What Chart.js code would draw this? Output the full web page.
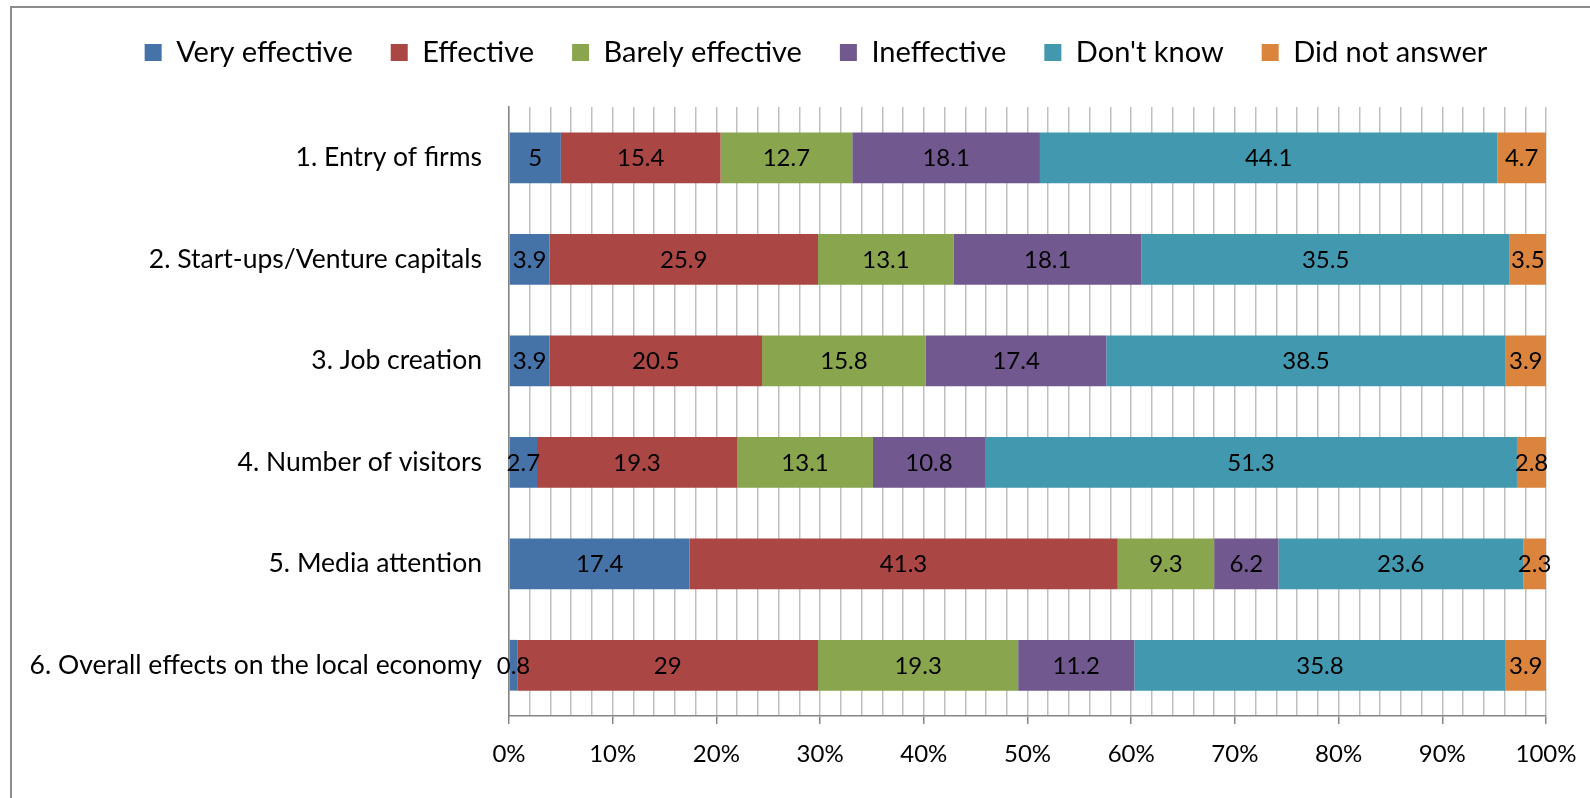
<!DOCTYPE html>
<html>
<head>
<meta charset="utf-8">
<script src="https://cdn.jsdelivr.net/npm/chart.js@4/dist/chart.umd.min.js"></script>
<style>
    html, body { margin: 0; padding: 0; background: #fff; overflow: hidden; }
    #wrap { position: relative; width: 1590px; height: 798px; }
    #frame {
        position: absolute; left: 10px; top: 6px; width: 2000px; height: 2000px;
        border: 2px solid #8c8c8c;
    }
    #effects { position: absolute; left: 0; top: 0; }
</style>
</head>
<body>
<div id="wrap">
    <div id="frame"></div>
    <canvas id="effects" width="1590" height="798"></canvas>
</div>
<script>
// survey answers per item, in percent
var items = [
    "1. Entry of firms",
    "2. Start-ups/Venture capitals",
    "3. Job creation",
    "4. Number of visitors",
    "5. Media attention",
    "6. Overall effects on the local economy"
];
var veryEffective   = [5, 3.9, 3.9, 2.7, 17.4, 0.8];
var effective       = [15.4, 25.9, 20.5, 19.3, 41.3, 29];
var barelyEffective = [12.7, 13.1, 15.8, 13.1, 9.3, 19.3];
var ineffective     = [18.1, 18.1, 17.4, 10.8, 6.2, 11.2];
var dontKnow        = [44.1, 35.5, 38.5, 51.3, 23.6, 35.8];
var noAnswer        = [4.7, 3.5, 3.9, 2.8, 2.3, 3.9];

var percentTicks = [0, 10, 20, 30, 40, 50, 60, 70, 80, 90, 100];

var FONT = "Lato";

document.addEventListener("DOMContentLoaded", function() {

    // numbers in the middle of each segment
    var segmentLabels = {
        id: "segmentLabels",
        afterDatasetsDraw: function(chart) {
            var ctx = chart.ctx;
            ctx.save();
            ctx.font = "24px " + FONT;
            ctx.fillStyle = "#000";
            ctx.textAlign = "center";
            ctx.textBaseline = "middle";
            chart.data.datasets.forEach(function(ds, i) {
                var meta = chart.getDatasetMeta(i);
                meta.data.forEach(function(bar, j) {
                    var p = bar.getProps(["x", "y", "base"], true);
                    var right = Math.min(p.x, chart.chartArea.right);
                    ctx.fillText(String(ds.data[j]), (right + p.base) / 2, p.y + 1);
                });
            });
            ctx.restore();
        }
    };

    // legend block takes the whole space above the plot,
    // and its row is centred over the bars rather than the canvas
    var legendPlace = {
        id: "legendPlace",
        beforeInit: function(chart) {
            var fit = chart.legend.fit;
            chart.legend.fit = function() {
                fit.bind(chart.legend)();
                this.height = 107;
            };
        },
        afterLayout: function(chart) {
            chart.legend.left = 86;
            chart.legend.right = 1546;
            chart.legend.width = 1460;
        }
    };

    function makeSet(label, values, color) {
        return {
            label: label,
            data: values,
            backgroundColor: color,
            borderWidth: 0,
            barPercentage: 0.5,
            categoryPercentage: 1.0
        };
    }

    var ctx = document.getElementById("effects").getContext("2d");
    var chart = new Chart(ctx, {
        type: "bar",
        data: {
            labels: items,
            datasets: [
                makeSet("Very effective", veryEffective, "#4572A7"),
                makeSet("Effective", effective, "#AA4643"),
                makeSet("Barely effective", barelyEffective, "#89A54E"),
                makeSet("Ineffective", ineffective, "#71588F"),
                makeSet("Don't know", dontKnow, "#4198AF"),
                makeSet("Did not answer", noAnswer, "#DB843D")
            ]
        },
        options: {
            indexAxis: "y",
            responsive: false,
            animation: false,
            layout: { padding: { left: 0, right: 44, top: 0, bottom: 0 } },
            plugins: {
                tooltip: { enabled: false },
                legend: {
                    position: "top",
                    labels: {
                        color: "#000",
                        font: { family: FONT, size: 29 },
                        boxWidth: 17,
                        boxHeight: 17,
                        padding: 38
                    }
                }
            },
            scales: {
                x: {
                    stacked: true,
                    min: 0,
                    max: 100,
                    afterBuildTicks: function(scale) {
                        var t = [];
                        for (var v = 0; v <= 100; v += 2) t.push({ value: v });
                        scale.ticks = t;
                    },
                    afterFit: function(scale) {
                        scale.height = 82;
                        scale.paddingLeft = 0;
                        scale.paddingRight = 0;
                    },
                    ticks: {
                        autoSkip: false,
                        maxRotation: 0,
                        color: "#000",
                        font: { family: FONT, size: 24 },
                        padding: 16,
                        callback: function(v) {
                            return percentTicks.indexOf(v) >= 0 ? v + "%" : "";
                        }
                    },
                    grid: {
                        color: "#bfbfbf",
                        lineWidth: 1.5,
                        tickLength: 8,
                        tickColor: function(c) {
                            return c.tick && c.tick.value % 10 === 0 ? "#868686" : "rgba(0,0,0,0)";
                        }
                    },
                    border: { color: "#868686", width: 1.5 }
                },
                y: {
                    stacked: true,
                    afterFit: function(scale) { scale.width = 509; },
                    ticks: {
                        color: "#000",
                        font: { family: FONT, size: 26.5 },
                        padding: 19
                    },
                    grid: { display: false },
                    border: { display: true, color: "#868686", width: 1.5 }
                }
            }
        },
        plugins: [segmentLabels, legendPlace]
    });
});
</script>
</body>
</html>
